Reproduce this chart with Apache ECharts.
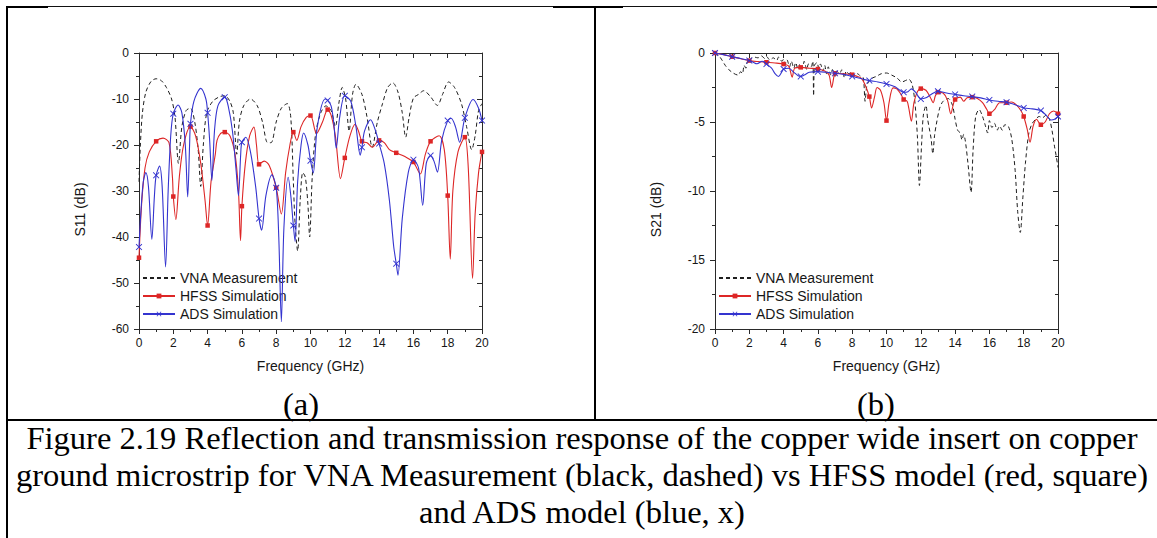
<!DOCTYPE html>
<html>
<head>
<meta charset="utf-8">
<title>Figure 2.19 – S11 / S21 of copper wide insert</title>
<script src="https://cdn.jsdelivr.net/npm/echarts@6/dist/echarts.min.js"></script>
<style>
  html, body { margin: 0; padding: 0; background: #ffffff; }
  #fig { width: 1157px; height: 538px; }
</style>
</head>
<body>
<div id="fig"></div>
<script>
// ---- measured / simulated responses, [frequency (GHz), magnitude (dB)] ----

// (a) reflection, S11
const s11Vna = [
  [0,-28],[0.08,-20],[0.2,-13],[0.4,-8.5],[0.7,-6.2],[1.0,-5.6],[1.3,-6],[1.6,-7.5],[1.9,-10],
  [2.1,-14],[2.3,-24],[2.5,-16],[2.75,-12.5],[3.0,-12],[3.25,-15],[3.45,-21],[3.6,-29],[3.75,-20],
  [3.95,-13],[4.3,-10.5],[4.7,-9.5],[5.0,-9.3],[5.3,-10.5],[5.5,-13],[5.7,-22],[5.85,-15],[6.1,-11.5],
  [6.5,-10],[6.9,-11.5],[7.2,-15],[7.5,-19.5],[7.7,-19.5],[8.0,-15],[8.3,-12],[8.65,-11],[8.85,-14],
  [9.0,-28],[9.1,-37],[9.25,-43],[9.4,-32],[9.55,-26],[9.7,-27],[9.85,-33],[9.95,-40],[10.1,-27],
  [10.3,-17.5],[10.6,-13],[10.9,-11.5],[11.2,-12.5],[11.45,-16],[11.65,-11],[11.85,-7.5],[12.05,-10],
  [12.25,-17],[12.45,-9],[12.65,-6.8],[13.0,-9],[13.3,-14],[13.6,-20.5],[13.9,-15],[14.2,-11],
  [14.5,-7.5],[14.8,-6.5],[15.1,-8.5],[15.35,-13],[15.55,-18.3],[15.75,-14],[16.0,-9.8],[16.3,-9],
  [16.6,-8.2],[17.0,-9.5],[17.4,-11.4],[17.7,-9],[18.05,-6.3],[18.4,-7.5],[18.8,-11],[19.1,-16],
  [19.4,-21],[19.6,-18],[19.8,-12.5],[20.0,-11]
];
const s11Hfss = [
  [0,-44.5],[0.15,-33],[0.35,-25],[0.6,-21.5],[1,-19.2],[1.4,-18.5],[1.75,-19.5],[1.95,-27],
  [2,-31.2],[2.15,-36.2],[2.35,-27],[2.6,-20],[3,-16],[3.3,-18],[3.6,-24],[3.85,-32],[4,-37.5],
  [4.2,-28],[4.45,-22],[4.55,-19],[4.75,-17.5],[5,-17.2],[5.3,-18],[5.6,-22],[5.8,-30],[5.92,-40.8],
  [6,-33.3],[6.2,-24],[6.45,-18],[6.7,-16.1],[6.85,-20],[7,-24.2],[7.3,-23.5],[7.6,-24.5],[8,-29.3],
  [8.3,-35],[8.55,-26],[8.8,-20],[9,-17.2],[9.2,-19],[9.45,-16],[9.75,-14],[10,-13.6],[10.35,-17.5],
  [10.7,-15],[11,-12.3],[11.2,-13.5],[11.45,-18],[11.75,-27.3],[12,-22.8],[12.3,-18],[12.6,-15.5],
  [12.8,-17],[13,-19.2],[13.3,-19.5],[13.6,-20.5],[14,-19],[14.3,-19.5],[14.6,-21],[15,-21.7],
  [15.5,-22.5],[16,-23.7],[16.4,-26.3],[16.7,-22],[17,-19.2],[17.5,-18],[17.8,-21],[18,-31],
  [18.15,-44.8],[18.3,-30],[18.6,-21.5],[19,-18.3],[19.2,-25],[19.45,-49],[19.6,-35],[19.8,-26],[20,-21.5]
];
const s11Ads = [
  [0,-42.2],[0.12,-34],[0.25,-28],[0.4,-26],[0.55,-29],[0.75,-40.5],[0.9,-31],[1,-26.6],[1.2,-24.6],
  [1.35,-29],[1.55,-46.5],[1.7,-30],[1.85,-18],[2,-13.2],[2.28,-11.3],[2.5,-13],[2.7,-20],[2.84,-31.3],
  [2.95,-20],[3,-15.4],[3.2,-10.5],[3.6,-7.7],[3.9,-10],[4,-13],[4.12,-19],[4.25,-27.7],[4.4,-17],
  [4.6,-11.5],[5,-9.6],[5.2,-11.5],[5.45,-17],[5.65,-25],[5.8,-31],[5.93,-22],[6,-19.4],[6.23,-18.3],
  [6.5,-21.5],[6.8,-29],[7,-36],[7.15,-38.5],[7.4,-31],[7.75,-26.5],[8,-29.3],[8.15,-40],[8.3,-58.4],
  [8.45,-38],[8.7,-27],[8.85,-31],[9,-37.5],[9.1,-41],[9.25,-28],[9.45,-20],[9.6,-17.4],[9.85,-20],
  [10,-23.4],[10.16,-26.1],[10.4,-16],[10.85,-10],[11,-10.3],[11.2,-11.5],[11.35,-15],[11.5,-20.7],
  [11.7,-14],[12,-9.3],[12.35,-10.5],[12.65,-16],[12.9,-22.2],[13,-20.5],[13.15,-17],[13.5,-14.5],
  [13.8,-17],[14,-19.7],[14.3,-24],[14.6,-32],[14.85,-42],[15,-45.8],[15.1,-48.3],[15.35,-36],
  [15.7,-26],[16,-23.2],[16.3,-25],[16.54,-33.1],[16.75,-24],[17,-22.3],[17.2,-23.5],[17.4,-25.9],
  [17.65,-19],[18,-14.7],[18.2,-14.2],[18.45,-16],[18.7,-19.4],[19,-14.1],[19.48,-10.1],[19.8,-12],[20,-14.7]
];

// (b) transmission, S21
const s21Vna = [
  [0,0],[0.2,-0.15],[0.4,-0.5],[0.6,-0.9],[0.8,-1.2],[1.0,-1.4],[1.2,-1.55],[1.35,-1.6],[1.5,-1.35],
  [1.6,-1.5],[1.7,-0.9],[1.8,-1.1],[1.9,-0.6],[2.0,-0.7],[2.1,-0.4],[2.3,-0.3],[2.5,-0.35],[2.7,-0.2],
  [2.9,-0.4],[3.0,-0.25],[3.2,-0.5],[3.4,-0.35],[3.6,-0.55],[3.7,-0.3],[3.9,-0.6],[4.0,-0.45],
  [4.1,-0.8],[4.2,-0.5],[4.35,-1.0],[4.45,-0.6],[4.6,-1.1],[4.7,-0.7],[4.85,-1.2],[4.95,-0.8],
  [5.1,-1.1],[5.2,-0.6],[5.35,-1.2],[5.45,-0.8],[5.6,-1.0],[5.7,-0.6],[5.75,-3.1],[5.8,-0.9],
  [5.95,-0.7],[6.05,-1.1],[6.15,-0.8],[6.3,-1.3],[6.4,-0.9],[6.5,-1.5],[6.6,-1.0],[6.75,-1.6],
  [6.85,-1.2],[7.0,-1.7],[7.1,-1.3],[7.25,-1.5],[7.4,-1.2],[7.55,-1.8],[7.65,-1.3],[7.8,-1.5],
  [7.95,-1.4],[8.1,-1.7],[8.3,-1.5],[8.5,-1.7],[8.65,-1.8],[8.75,-3.5],[8.85,-2.4],[9.0,-2.0],
  [9.2,-1.8],[9.4,-1.7],[9.7,-1.5],[10.0,-1.45],[10.3,-1.6],[10.6,-1.8],[10.9,-2.1],[11.1,-2.0],
  [11.3,-1.9],[11.5,-2.3],[11.65,-3.5],[11.8,-6],[11.92,-9.6],[12.05,-6.5],[12.15,-4.5],[12.3,-3.8],
  [12.4,-4.8],[12.5,-5.5],[12.6,-6.2],[12.7,-7.3],[12.8,-6.0],[12.9,-5.2],[13.1,-4.0],[13.3,-3.5],
  [13.6,-3.3],[13.85,-3.8],[14.0,-4.8],[14.15,-5.6],[14.3,-5.8],[14.4,-6.3],[14.5,-5.9],[14.6,-6.4],
  [14.75,-8],[14.93,-10.1],[15.05,-7],[15.2,-4.6],[15.4,-4.1],[15.6,-4.6],[15.75,-5.2],[15.9,-5.8],
  [16.0,-4.9],[16.15,-5.4],[16.3,-5.1],[16.45,-5.6],[16.6,-5.3],[16.75,-5.6],[16.9,-5.2],[17.1,-5.3],
  [17.3,-6.2],[17.5,-8.5],[17.65,-11.5],[17.8,-13],[17.95,-10.5],[18.1,-8],[18.3,-5.8],[18.5,-5.1],
  [18.7,-4.8],[18.9,-4.6],[19.1,-4.7],[19.3,-4.5],[19.5,-4.8],[19.65,-5.6],[19.8,-6.8],[19.9,-7.5],[20.0,-8.3]
];
const s21Hfss = [
  [0,0],[0.5,-0.12],[1,-0.27],[1.5,-0.42],[2,-0.55],[2.5,-0.62],[3,-0.67],[3.5,-0.72],[4,-0.8],
  [4.3,-0.95],[4.5,-1.75],[4.65,-1.1],[5,-1.04],[5.5,-1.1],[6,-1.16],[6.4,-1.3],[6.65,-1.6],[6.8,-2.5],
  [6.95,-1.6],[7,-1.47],[7.5,-1.5],[8,-1.57],[8.3,-1.7],[8.55,-1.85],[8.75,-2.3],[9,-3.16],[9.13,-3.98],
  [9.3,-3.2],[9.45,-2.5],[9.65,-2.7],[9.85,-3.6],[10,-4.9],[10.15,-3.6],[10.38,-2.53],[10.6,-2.6],
  [10.85,-3.0],[11,-3.37],[11.2,-3.5],[11.3,-4.0],[11.45,-4.94],[11.6,-3.6],[11.8,-2.8],[12,-2.58],
  [12.3,-2.7],[12.55,-3.2],[12.72,-3.6],[12.85,-3.1],[13,-2.84],[13.3,-2.9],[13.55,-3.4],[13.75,-4.4],
  [13.9,-3.7],[14,-3.37],[14.3,-3.2],[14.5,-3.5],[14.7,-3.25],[15,-3.2],[15.3,-3.3],[15.6,-3.6],
  [15.85,-4.1],[16,-4.4],[16.3,-4.1],[16.6,-3.6],[17,-3.6],[17.3,-3.55],[17.6,-3.8],[17.85,-4.2],
  [18,-4.6],[18.2,-5.5],[18.37,-6.46],[18.55,-5.3],[18.75,-4.8],[19,-5.2],[19.25,-5.0],[19.5,-4.4],
  [19.75,-4.2],[20,-4.4]
];
const s21Ads = [
  [0,0],[0.5,-0.12],[1,-0.27],[1.5,-0.4],[2,-0.55],[2.2,-0.65],[2.45,-0.78],[2.75,-0.6],[3,-0.8],
  [3.3,-1.1],[3.5,-1.5],[3.7,-1.7],[3.9,-1.35],[4,-1.16],[4.3,-1.1],[4.6,-1.4],[4.85,-1.65],[5,-1.7],
  [5.2,-1.6],[5.5,-1.4],[6,-1.35],[6.5,-1.4],[7,-1.47],[7.5,-1.55],[8,-1.7],[8.5,-1.85],[9,-2.0],
  [9.5,-2.1],[10,-2.24],[10.5,-2.45],[11,-2.84],[11.25,-2.8],[11.45,-2.6],[11.7,-2.85],[12,-3.33],
  [12.3,-3.25],[12.6,-3.0],[13,-2.77],[13.5,-2.9],[14,-3.0],[14.5,-3.1],[15,-3.16],[15.5,-3.25],
  [16,-3.4],[16.5,-3.5],[17,-3.57],[17.5,-3.75],[18,-3.98],[18.5,-4.05],[19,-4.17],[19.3,-4.5],
  [19.6,-4.85],[19.8,-4.8],[20,-4.6]
];

// ---- text ----
const seriesNames = ['VNA Measurement', 'HFSS Simulation', 'ADS Simulation'];
const freqTitle = 'Frequency (GHz)';
const panelTitles = ['S11 (dB)', 'S21 (dB)'];
const panelTags = ['(a)', '(b)'];
const captionLines = [
  'Figure 2.19 Reflection and transmission response of the copper wide insert on copper',
  'ground microstrip for VNA Measurement (black, dashed) vs HFSS model (red, square)',
  'and ADS model (blue, x)'
];

// ---- styling ----
const SANS = '"Liberation Sans", Arial, Helvetica, sans-serif';
const SERIF = '"Liberation Serif", "Times New Roman", Times, serif';
const AX = '#2a2a2a';
const TXT = '#161616';
const RED = '#dd2626';
const BLUE = '#3434cf';
const CROSS = 'path://M0,1L1,0L5,4L9,0L10,1L6,5L10,9L9,10L5,6L1,10L0,9L4,5Z';

// markers sit on the whole-GHz samples only
const onWholeGHz = size => (v => Number.isInteger(v[0]) ? size : 0);

function freqAxis(grid, pos) {
  const bottom = pos === 'bottom';
  return {
    type: 'value', gridIndex: grid, position: pos, min: 0, max: 20, interval: 2,
    axisLine: { onZero: false, lineStyle: { color: AX, width: 1 } },
    axisTick: { inside: !bottom, length: 5, lineStyle: { color: AX, width: 1 } },
    minorTick: { show: true, splitNumber: 2, length: 3, lineStyle: { color: AX, width: 1 } },
    splitLine: { show: false },
    axisLabel: { show: bottom, margin: 8, fontSize: 12, color: TXT, fontFamily: SANS },
    name: bottom ? freqTitle : '', nameLocation: 'middle', nameGap: 30,
    nameTextStyle: { fontSize: 14, color: TXT, fontFamily: SANS }
  };
}

function dbAxis(grid, pos, min, step, title) {
  const left = pos === 'left';
  return {
    type: 'value', gridIndex: grid, position: pos, min: min, max: 0, interval: step,
    axisLine: { onZero: false, lineStyle: { color: AX, width: 1 } },
    axisTick: { inside: !left, length: 5, lineStyle: { color: AX, width: 1 } },
    minorTick: { show: true, splitNumber: 2, length: 3, lineStyle: { color: AX, width: 1 } },
    splitLine: { show: false },
    axisLabel: { show: left, margin: 10, fontSize: 12, color: TXT, fontFamily: SANS },
    name: left ? title : '', nameLocation: 'middle', nameGap: 52,
    nameTextStyle: { fontSize: 14, color: TXT, fontFamily: SANS, padding: [0, 37, 0, 0] }
  };
}

function traces(axisIdx, vna, hfss, ads) {
  const common = {
    type: 'line', xAxisIndex: axisIdx, yAxisIndex: axisIdx,
    smooth: 0.3, showAllSymbol: true, clip: true, animation: false
  };
  return [
    Object.assign({}, common, {
      name: seriesNames[0], data: vna, symbol: 'none',
      lineStyle: { color: '#1e1e1e', width: 1, type: [4, 3] },
      itemStyle: { color: '#1e1e1e' }, z: 2
    }),
    Object.assign({}, common, {
      name: seriesNames[1], data: hfss, symbol: 'rect', symbolSize: onWholeGHz(4.5),
      lineStyle: { color: RED, width: 1.1 }, itemStyle: { color: RED }, z: 3
    }),
    Object.assign({}, common, {
      name: seriesNames[2], data: ads, symbol: CROSS, symbolSize: onWholeGHz(6.5),
      lineStyle: { color: BLUE, width: 1.1 }, itemStyle: { color: BLUE }, z: 4
    })
  ];
}

function legendAt(left) {
  return {
    orient: 'vertical', left: left, top: 271, padding: 0,
    itemWidth: 32, itemHeight: 6, itemGap: 4, selectedMode: false,
    textStyle: { fontSize: 14, color: TXT, fontFamily: SANS },
    data: [
      // the measurement entry is a plain dashed line, no marker
      { name: seriesNames[0], itemStyle: { opacity: 0 } },
      seriesNames[1],
      seriesNames[2]
    ]
  };
}

const black = { fill: '#000' };
const graphics = [
  // table rules
  { type: 'rect', shape: { x: 6, y: 6, width: 2, height: 532 }, style: black },
  { type: 'rect', shape: { x: 6, y: 6, width: 42, height: 2 }, style: black },
  { type: 'rect', shape: { x: 553, y: 6, width: 70, height: 2 }, style: black },
  { type: 'rect', shape: { x: 1130, y: 6, width: 27, height: 2 }, style: black },
  { type: 'rect', shape: { x: 594, y: 6, width: 2, height: 415 }, style: black },
  { type: 'rect', shape: { x: 6, y: 419, width: 1151, height: 2 }, style: black },
  // thin top edge of the two figure panels
  { type: 'line', shape: { x1: 48, y1: 6.5, x2: 553, y2: 6.5 }, style: { stroke: '#111', lineWidth: 1 } },
  { type: 'line', shape: { x1: 623, y1: 6.5, x2: 1130, y2: 6.5 }, style: { stroke: '#111', lineWidth: 1 } }
];
panelTags.forEach((t, i) => graphics.push({
  type: 'text', x: i === 0 ? 301 : 876, y: 404,
  style: { text: t, fontSize: 32.5, fontFamily: SERIF, fill: '#000', align: 'center', verticalAlign: 'middle' }
}));
captionLines.forEach((t, i) => graphics.push({
  type: 'text', x: 582, y: 438 + i * 37,
  style: { text: t, fontSize: 32.5, fontFamily: SERIF, fill: '#000', align: 'center', verticalAlign: 'middle' }
}));

const chart = echarts.init(document.getElementById('fig'), null, { renderer: 'svg' });
chart.setOption({
  backgroundColor: '#ffffff',
  animation: false,
  grid: [
    { left: 139, top: 53, width: 343, height: 276, containLabel: false },
    { left: 715, top: 53, width: 343, height: 276, containLabel: false }
  ],
  xAxis: [freqAxis(0, 'bottom'), freqAxis(0, 'top'), freqAxis(1, 'bottom'), freqAxis(1, 'top')],
  yAxis: [
    dbAxis(0, 'left', -60, 10, panelTitles[0]), dbAxis(0, 'right', -60, 10, ''),
    dbAxis(1, 'left', -20, 5, panelTitles[1]), dbAxis(1, 'right', -20, 5, '')
  ],
  legend: [legendAt(142), legendAt(718)],
  series: [].concat(
    traces(0, s11Vna, s11Hfss, s11Ads),
    traces(2, s21Vna, s21Hfss, s21Ads)
  ),
  graphic: graphics
});
</script>
</body>
</html>
